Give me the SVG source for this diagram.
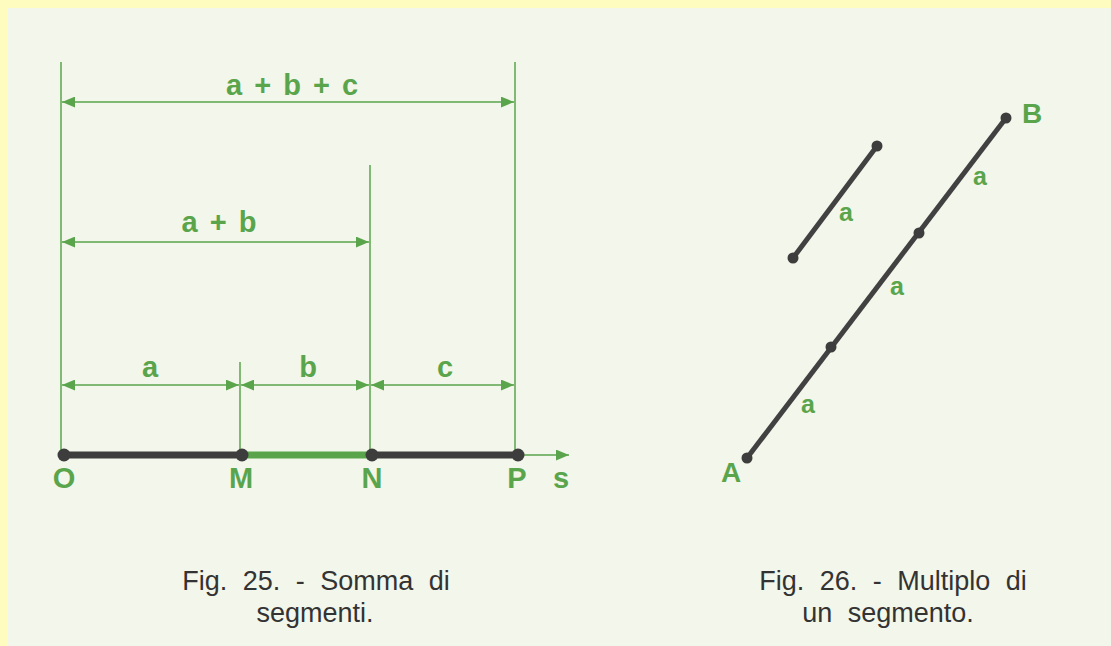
<svg xmlns="http://www.w3.org/2000/svg" width="1111" height="646" viewBox="0 0 1111 646">
  <style>
    .dim { stroke: #5aa54c; stroke-width: 1.6; fill: none; }
    .ext { stroke: #5aa54c; stroke-width: 1.5; fill: none; }
    .lbl { font-family: "Liberation Sans", Arial, sans-serif; font-weight: bold; font-size: 29px; fill: #5aa54c; text-anchor: middle; word-spacing: 4px; }
    .lbl2 { font-family: "Liberation Sans", Arial, sans-serif; font-weight: bold; font-size: 25px; fill: #5aa54c; text-anchor: middle; }
    .lbl3 { font-family: "Liberation Sans", Arial, sans-serif; font-weight: bold; font-size: 28px; fill: #5aa54c; text-anchor: middle; }
    .cap { font-family: "Liberation Sans", Arial, sans-serif; font-size: 27px; fill: #333333; text-anchor: middle; word-spacing: 8px; }
    .seg { stroke: #3d3d3d; stroke-width: 7; fill: none; }
    .seg2 { stroke: #414141; stroke-width: 5; fill: none; }
    .dot { fill: #3d3d3d; }
  </style>
  <defs>
    <marker id="ah" viewBox="0 0 12 10" refX="12" refY="5" markerWidth="13" markerHeight="11" markerUnits="userSpaceOnUse" orient="auto-start-reverse">
      <path d="M0,0 L12,5 L0,10 z" fill="#5aa54c"/>
    </marker>
  </defs>
  <rect x="0" y="0" width="1111" height="646" fill="#f3f6ea"/>
  <rect x="0" y="0" width="1111" height="8" fill="#fefcbf"/>
  <rect x="0" y="0" width="8" height="646" fill="#fefcbf"/>

  <g id="connectors">
    <line class="ext" x1="61" y1="62" x2="61" y2="455"/>
    <line class="ext" x1="515" y1="62" x2="515" y2="455"/>
    <line class="ext" x1="370" y1="165" x2="370" y2="455"/>
    <line class="ext" x1="240" y1="362" x2="240" y2="455"/>
    <line class="dim" x1="62" y1="102" x2="514" y2="102" marker-start="url(#ah)" marker-end="url(#ah)"/>
    <line class="dim" x1="62" y1="242" x2="369" y2="242" marker-start="url(#ah)" marker-end="url(#ah)"/>
    <line class="dim" x1="62" y1="385" x2="239" y2="385" marker-start="url(#ah)" marker-end="url(#ah)"/>
    <line class="dim" x1="241" y1="385" x2="369" y2="385" marker-start="url(#ah)" marker-end="url(#ah)"/>
    <line class="dim" x1="371" y1="385" x2="514" y2="385" marker-start="url(#ah)" marker-end="url(#ah)"/>
    <line class="dim" x1="518" y1="455" x2="569" y2="455" marker-end="url(#ah)"/>
  </g>

  <g id="fig25-segments">
    <line class="seg" x1="64" y1="455" x2="242" y2="455"/>
    <line x1="242" y1="455" x2="372" y2="455" stroke="#5aa54c" stroke-width="7"/>
    <line class="seg" x1="372" y1="455" x2="518" y2="455"/>
  </g>
  <g id="node-O"><circle class="dot" cx="64" cy="455" r="6.5"/><text class="lbl" x="64" y="488">O</text></g>
  <g id="node-M"><circle class="dot" cx="242" cy="455" r="6.5"/><text class="lbl" x="241" y="488">M</text></g>
  <g id="node-N"><circle class="dot" cx="372" cy="455" r="6.5"/><text class="lbl" x="372" y="488">N</text></g>
  <g id="node-P"><circle class="dot" cx="518" cy="455" r="6.5"/><text class="lbl" x="517" y="488">P</text></g>
  <g id="label-s"><text class="lbl" x="561" y="488">s</text></g>

  <g id="dim-labels">
    <text class="lbl" x="292" y="95">a + b + c</text>
    <text class="lbl" x="219" y="232">a + b</text>
    <text class="lbl" x="150" y="377">a</text>
    <text class="lbl" x="308" y="377">b</text>
    <text class="lbl" x="445" y="377">c</text>
  </g>

  <g id="caption-25">
    <text class="cap" x="316" y="590">Fig. 25. - Somma di</text>
    <text class="cap" x="315" y="622">segmenti.</text>
  </g>

  <g id="fig26-unit">
    <line class="seg2" x1="793" y1="258" x2="877" y2="146"/>
    <circle class="dot" cx="793" cy="258" r="5.5"/>
    <circle class="dot" cx="877" cy="146" r="5.5"/>
    <text class="lbl2" x="846" y="221">a</text>
  </g>
  <g id="fig26-AB">
    <line class="seg2" x1="747" y1="458" x2="1006" y2="118"/>
    <circle class="dot" cx="747" cy="458" r="5.5"/>
    <circle class="dot" cx="831" cy="347" r="5.5"/>
    <circle class="dot" cx="919" cy="233" r="5.5"/>
    <circle class="dot" cx="1006" cy="118" r="5.5"/>
    <text class="lbl2" x="980" y="185">a</text>
    <text class="lbl2" x="897" y="295">a</text>
    <text class="lbl2" x="808" y="413">a</text>
    <text class="lbl3" x="1032" y="123">B</text>
    <text class="lbl3" x="731" y="482">A</text>
  </g>

  <g id="caption-26">
    <text class="cap" x="893" y="590">Fig. 26. - Multiplo di</text>
    <text class="cap" x="888" y="622">un segmento.</text>
  </g>
</svg>
